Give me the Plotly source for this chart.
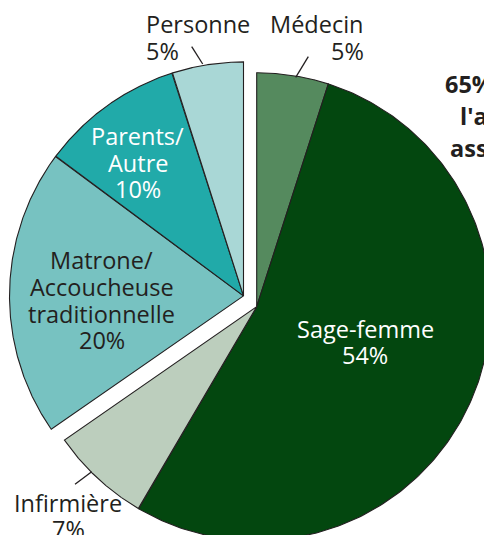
import numpy as np
import plotly.graph_objects as go

# ---- data ----
slice_names = ["Médecin", "Sage-femme", "Infirmière",
               "Matrone/ Accoucheuse traditionnelle", "Parents/ Autre", "Personne"]
label_lines = [["Médecin"], ["Sage-femme"], ["Infirmière"],
               ["Matrone/", "Accoucheuse", "traditionnelle"], ["Parents/", "Autre"], ["Personne"]]
values = [5, 54, 7, 20, 10, 5]
pulled = [False, False, False, True, True, True]
side_text = ["65% des femmes ont", "l'assistance d'un", "assistant qualifié"]

# ---- style ----
W, H = 484, 535
colors = ["#558a5e", "#03470f", "#bccebd", "#77c2c1", "#21aaa9", "#a9d7d6"]
text_colors = ["#231f20", "#ffffff", "#231f20", "#231f20", "#ffffff", "#231f20"]
cx, cy, R = 256.7, 306.7, 234.0
pull_dx, pull_dy = -13.2, -10.8
FONT = "Open Sans"
FS = 23.5
# label anchor x, first baseline, line spacing, anchor
label_pos = [
    (366, 33.3, 26.7, "right"),
    (365, 338.3, 25.5, "center"),
    (68, 511.7, 26.7, "center"),
    (101.7, 269.3, 26.7, "center"),
    (137.5, 145.0, 26.7, "center"),
    (144, 33.3, 26.7, "left"),
]
leaders = [((308.3, 56.7), (295.7, 77.3)), ((191.7, 46.7), (202.7, 64.0)), ((75.0, 484.3), (91.7, 471.7))]

fig = go.Figure()
total = float(sum(values))
acc = 0.0
for name, v, p, c in zip(slice_names, values, pulled, colors):
    a0 = acc / total * 2 * np.pi
    a1 = (acc + v) / total * 2 * np.pi
    acc += v
    t = np.linspace(a0, a1, 240)
    ox, oy = (cx + pull_dx, cy + pull_dy) if p else (cx, cy)
    xs = np.concatenate([[ox], ox + R * np.sin(t), [ox]])
    ys = np.concatenate([[oy], oy - R * np.cos(t), [oy]])
    fig.add_trace(go.Scatter(x=xs, y=ys, mode="lines", fill="toself", fillcolor=c,
                             line=dict(color="#231f20", width=1.1), name=name,
                             hoverinfo="name", showlegend=False))

annotations = []
for lines, v, tc, (ax, by, sp, anc) in zip(label_lines, values, text_colors, label_pos):
    all_lines = lines + [f"{v}%"]
    for i, ln in enumerate(all_lines):
        annotations.append(dict(x=ax, y=by + i * sp - 9, xref="x", yref="y", text=ln,
                                showarrow=False, xanchor=anc, yanchor="middle",
                                font=dict(family=FONT, size=FS, color=tc)))

side_x = [443, 458, 448]
side_base = [93.3, 125.0, 156.7]
for ln, sx, sb in zip(side_text, side_x, side_base):
    annotations.append(dict(x=sx, y=sb - 9, xref="x", yref="y", text=f"<b>{ln}</b>",
                            showarrow=False, xanchor="left", yanchor="middle",
                            font=dict(family=FONT, size=FS, color="#231f20")))

shapes = [dict(type="line", x0=a[0], y0=a[1], x1=b[0], y1=b[1], xref="x", yref="y",
               line=dict(color="#231f20", width=1.3)) for a, b in leaders]

fig.update_layout(
    width=W, height=H, margin=dict(l=0, r=0, t=0, b=0),
    paper_bgcolor="white", plot_bgcolor="white",
    xaxis=dict(range=[0, W], visible=False, fixedrange=True),
    yaxis=dict(range=[H, 0], visible=False, fixedrange=True),
    annotations=annotations, shapes=shapes,
)
fig.write_html("out.html", config={"displayModeBar": False},
               post_script="document.body.style.margin='0';document.body.style.overflow='hidden';")
